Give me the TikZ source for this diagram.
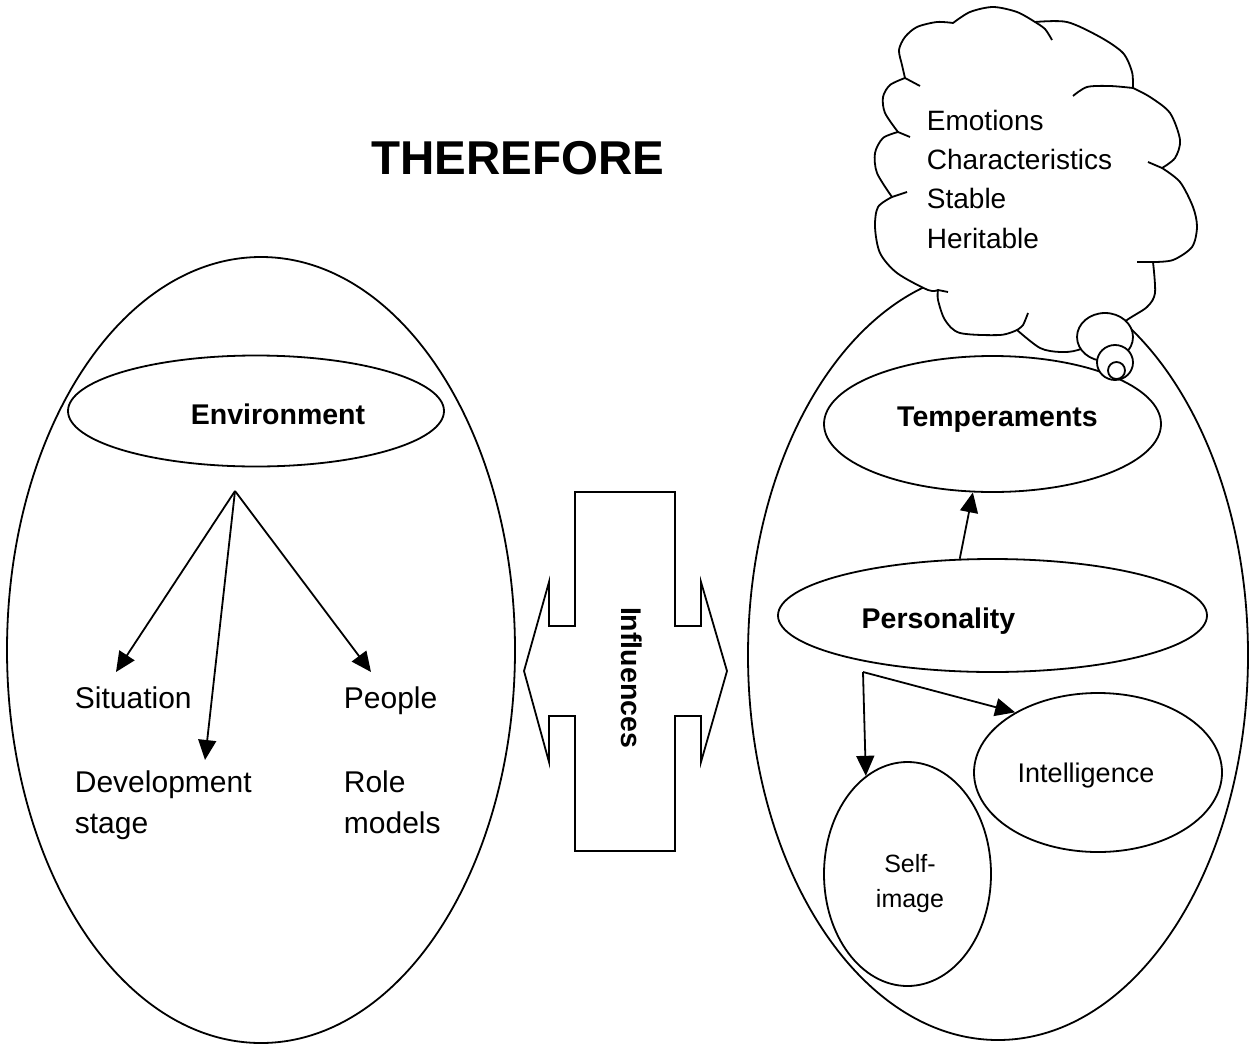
\documentclass[tikz,border=0pt]{standalone}
\usepackage{fontspec}
\setmainfont{Liberation Sans}
\usetikzlibrary{shapes.geometric,arrows.meta,positioning,calc}

\begin{document}
\begin{tikzpicture}[x=1pt, y=-1pt, line width=1.8pt,
    oval/.style={draw, ellipse, inner sep=0pt},
    head/.style={font=\fontsize{28.5}{34}\selectfont\bfseries, anchor=base},
    item/.style={font=\fontsize{30}{40.5}\selectfont, anchor=base west, align=left, inner sep=0pt},
    arr/.style={-{Triangle[length=20pt,width=18pt]}}]
    \useasboundingbox (0,0) rectangle (1253,1044);

    % the two groups
    \node[oval, minimum width=508pt, minimum height=786pt] (envgroup) at (261,650) {};
    \node[oval, minimum width=500pt, minimum height=770pt] (persgroup) at (998,655) {};

    \node[oval, minimum width=376pt, minimum height=111pt] (envoval) at (256,411) {};
    \node[oval, minimum width=337pt, minimum height=136pt] (tempoval) at (992.5,424) {};
    \node[oval, minimum width=429pt, minimum height=113pt] (persoval) at (992.5,615.5) {};
    \node[oval, minimum width=248pt, minimum height=159pt] (inteloval) at (1098,772.5) {};
    \node[oval, minimum width=167pt, minimum height=224pt] (selfoval) at (907.5,874) {};

    % thought cloud
    \draw[fill=white, line join=round]
        plot[smooth] coordinates {(953,23) (970,12) (993,7) (1017,12) (1035,22)}
        -- plot[smooth] coordinates {(1035,22) (1067,22) (1100,37) (1123,53) (1132,72) (1133,88)}
        -- plot[smooth] coordinates {(1133,88) (1150,97) (1170,113) (1180,140) (1175,158) (1162,168)}
        -- plot[smooth] coordinates {(1162,168) (1180,182) (1193,207) (1197,227) (1192,247) (1173,260) (1153,262)}
        -- plot[smooth] coordinates {(1153,262) (1155,293) (1147,307) (1127,320) (1105,338) (1078,350) (1060,352) (1040,348) (1017,330)}
        -- plot[smooth] coordinates {(1017,330) (1000,335) (960,333) (945,320) (938,300) (938,290)}
        -- plot[smooth] coordinates {(938,290) (928,290) (897,273) (880,253) (875,227) (878,207) (892,197)}
        -- plot[smooth] coordinates {(892,197) (877,173) (875,153) (883,138) (898,132)}
        -- plot[smooth] coordinates {(898,132) (885,113) (883,97) (890,85) (905,78)}
        -- plot[smooth] coordinates {(905,78) (902,65) (899,50) (905,37) (917,27) (937,22) (953,23)}
        -- cycle;
    \draw plot[smooth] coordinates {(1035,22) (1045,29) (1052,40)};
    \draw plot[smooth] coordinates {(1133,88) (1110,86) (1087,87) (1073,96)};
    \draw (1162,168) -- (1148,162);
    \draw (1153,262) -- (1137,262);
    \draw plot[smooth] coordinates {(1017,330) (1023,325) (1028,313)};
    \draw (938,290) -- (948,292);
    \draw (892,197) -- (907,192);
    \draw (898,132) -- (910,137);
    \draw (905,78) -- (920,86);
    \draw[fill=white] (1105,337) ellipse (28pt and 24pt);
    \draw[fill=white] (1115,362.5) ellipse (18pt and 17.5pt);
    \draw[fill=white] (1116.5,370.5) circle (8.5pt);

    % double arrow
    \draw[line join=miter] (575,492) -- (675,492) -- (675,626) -- (701,626) -- (701,582) -- (727,671)
        -- (701,762) -- (701,716) -- (675,716) -- (675,851) -- (575,851) -- (575,716) -- (549,716)
        -- (549,762) -- (524,671) -- (549,582) -- (549,626) -- (575,626) -- cycle;

    % texts
    \node[font=\fontsize{47.5}{57}\selectfont\bfseries] (title) at (518,158) {THEREFORE};
    \node[head] (envtext) at (278,424) {Environment};
    \node[head] (temptext) at (997.5,426) {Temperaments};
    \node[head] (perstext) at (938.5,628) {Personality};
    \node[head, rotate=-90] (inftext) at (621,677.5) {Influences};
    \node[item] (situation) at (74,708) {Situation};
    \node[item] (people) at (343,708) {People};
    \node[item] (devstage) at (74,833) {Development\\stage};
    \node[item] (rolemodels) at (343,833) {Role\\models};
    \node[item, font=\fontsize{28}{39.3}\selectfont] (traits) at (926,248) {Emotions\\Characteristics\\Stable\\Heritable};
    \node[font=\fontsize{27}{32}\selectfont, anchor=base] (inteltext) at (1086,782) {Intelligence};
    \node[font=\fontsize{25}{35}\selectfont, align=center, anchor=base] (selftext) at (910,907) {Self-\\image};

    % arrows
    \coordinate (envsplit) at (235,491);
    \coordinate (sittip) at (116,672);
    \coordinate (devtip) at (205,760);
    \coordinate (ppltip) at (371,672);
    \draw[arr] (envsplit) -- (sittip);
    \draw[arr] (envsplit) -- (devtip);
    \draw[arr] (envsplit) -- (ppltip);
    \draw[arr] (persoval.120) -- (tempoval.254);
    \coordinate (perssplit) at (863,672);
    \draw[arr] (perssplit) -- (selfoval.113);
    \draw[arr] (perssplit) -- (inteloval.144);
\end{tikzpicture}
\end{document}
